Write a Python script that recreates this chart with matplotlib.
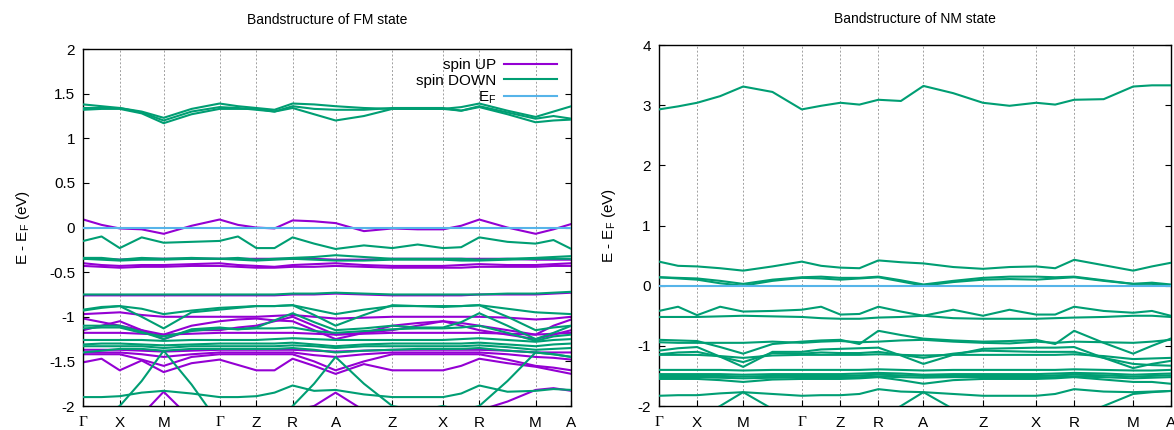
import numpy as np
import matplotlib.pyplot as plt

plt.rcParams['font.family'] = ['Liberation Sans', 'DejaVu Sans']

# k-path: high-symmetry points and the sampled k-grid (points + segment midpoints)
kpt_labels = ['Γ', 'X', 'M', 'Γ', 'Z', 'R', 'A', 'Z', 'X', 'R', 'M', 'A']
kpt_pos = [0.0, 0.0745, 0.1645, 0.279, 0.3545, 0.4288, 0.5168, 0.633, 0.737, 0.8113, 0.9266, 1.0]
kgrid = [0.0, 0.0373, 0.0745, 0.1195, 0.1645, 0.2218, 0.279, 0.3168, 0.3545, 0.3917, 0.4288,
         0.4728, 0.5168, 0.5749, 0.633, 0.685, 0.737, 0.7742, 0.8113, 0.869, 0.9266, 0.9633, 1.0]

# FM state, spin UP bands (eV)
fm_up = [
    [0.09, 0.03, -0.01, -0.02, -0.07, 0.02, 0.09, 0.03, 0.0, -0.01, 0.08, 0.07, 0.05, -0.04, -0.01, -0.02, -0.02, 0.02, 0.09, 0.0, -0.07, -0.02, 0.04],
    [-0.35, -0.35, -0.36, -0.35, -0.35, -0.35, -0.35, -0.35, -0.35, -0.35, -0.35, -0.35, -0.36, -0.36, -0.35, -0.35, -0.35, -0.35, -0.35, -0.35, -0.36, -0.36, -0.36],
    [-0.40, -0.42, -0.43, -0.42, -0.42, -0.41, -0.40, -0.42, -0.43, -0.44, -0.42, -0.41, -0.40, -0.42, -0.43, -0.43, -0.43, -0.42, -0.41, -0.42, -0.42, -0.41, -0.40],
    [-0.43, -0.44, -0.45, -0.44, -0.44, -0.43, -0.43, -0.44, -0.45, -0.45, -0.44, -0.44, -0.43, -0.44, -0.45, -0.45, -0.45, -0.45, -0.44, -0.44, -0.44, -0.43, -0.43],
    [-0.76, -0.76, -0.76, -0.76, -0.76, -0.76, -0.76, -0.76, -0.76, -0.76, -0.75, -0.75, -0.74, -0.75, -0.76, -0.76, -0.76, -0.76, -0.75, -0.75, -0.75, -0.74, -0.73],
    [-0.97, -0.96, -0.95, -0.98, -1.00, -1.00, -1.00, -1.00, -1.00, -0.99, -0.98, -1.00, -1.02, -1.01, -1.00, -1.00, -1.00, -1.00, -1.00, -1.01, -1.03, -1.02, -1.00],
    [-1.02, -1.06, -1.10, -1.15, -1.20, -1.10, -1.05, -1.03, -1.02, -1.04, -1.05, -1.15, -1.25, -1.18, -1.10, -1.07, -1.05, -1.07, -1.10, -1.15, -1.20, -1.10, -1.03],
    [-1.15, -1.10, -1.05, -1.15, -1.25, -1.15, -1.15, -1.12, -1.10, -1.05, -1.00, -1.10, -1.20, -1.18, -1.15, -1.10, -1.05, -1.10, -1.15, -1.20, -1.25, -1.20, -1.15],
    [-1.18, -1.18, -1.18, -1.19, -1.20, -1.19, -1.18, -1.18, -1.18, -1.18, -1.18, -1.19, -1.20, -1.19, -1.18, -1.18, -1.18, -1.18, -1.18, -1.19, -1.20, -1.19, -1.18],
    [-1.37, -1.37, -1.37, -1.38, -1.39, -1.38, -1.37, -1.37, -1.37, -1.37, -1.37, -1.38, -1.39, -1.38, -1.37, -1.37, -1.37, -1.37, -1.37, -1.38, -1.40, -1.40, -1.40],
    [-1.40, -1.40, -1.40, -1.42, -1.45, -1.42, -1.40, -1.40, -1.40, -1.40, -1.40, -1.43, -1.45, -1.42, -1.40, -1.40, -1.40, -1.40, -1.40, -1.42, -1.45, -1.46, -1.48],
    [-1.42, -1.42, -1.42, -1.48, -1.55, -1.45, -1.42, -1.42, -1.42, -1.42, -1.42, -1.50, -1.60, -1.50, -1.42, -1.42, -1.42, -1.42, -1.42, -1.48, -1.55, -1.57, -1.60],
    [-1.51, -1.47, -1.60, -1.49, -1.62, -1.52, -1.48, -1.54, -1.60, -1.60, -1.47, -1.55, -1.64, -1.53, -1.60, -1.60, -1.60, -1.55, -1.47, -1.52, -1.56, -1.60, -1.64],
    [-2.30, -2.30, -2.25, -2.10, -1.84, -2.15, -2.30, -2.30, -2.30, -2.15, -2.05, -2.00, -1.85, -2.05, -2.20, -2.20, -2.20, -2.10, -2.05, -1.95, -1.82, -1.80, -1.83],
]

# FM state, spin DOWN bands (eV)
fm_down = [
    [1.38, 1.36, 1.34, 1.30, 1.23, 1.33, 1.39, 1.36, 1.34, 1.32, 1.39, 1.38, 1.36, 1.34, 1.33, 1.33, 1.33, 1.35, 1.39, 1.31, 1.24, 1.30, 1.36],
    [1.32, 1.33, 1.33, 1.28, 1.17, 1.27, 1.33, 1.33, 1.33, 1.30, 1.34, 1.27, 1.20, 1.25, 1.33, 1.33, 1.33, 1.31, 1.35, 1.27, 1.18, 1.20, 1.21],
    [1.34, 1.34, 1.34, 1.29, 1.20, 1.30, 1.35, 1.34, 1.32, 1.30, 1.36, 1.33, 1.32, 1.32, 1.34, 1.34, 1.34, 1.31, 1.36, 1.29, 1.22, 1.25, 1.22],
    [-0.15, -0.10, -0.23, -0.11, -0.17, -0.16, -0.15, -0.10, -0.23, -0.23, -0.11, -0.18, -0.24, -0.20, -0.23, -0.19, -0.23, -0.22, -0.11, -0.16, -0.18, -0.14, -0.24],
    [-0.34, -0.34, -0.36, -0.34, -0.35, -0.34, -0.35, -0.34, -0.36, -0.35, -0.34, -0.33, -0.31, -0.33, -0.35, -0.35, -0.35, -0.35, -0.36, -0.35, -0.34, -0.33, -0.32],
    [-0.35, -0.36, -0.37, -0.36, -0.36, -0.35, -0.35, -0.36, -0.37, -0.36, -0.35, -0.36, -0.37, -0.37, -0.36, -0.36, -0.36, -0.37, -0.37, -0.36, -0.35, -0.35, -0.35],
    [-0.75, -0.75, -0.75, -0.75, -0.75, -0.75, -0.75, -0.75, -0.75, -0.75, -0.74, -0.74, -0.73, -0.74, -0.75, -0.75, -0.75, -0.75, -0.75, -0.74, -0.74, -0.73, -0.72],
    [-0.92, -0.89, -0.88, -0.91, -0.97, -0.93, -0.90, -0.89, -0.88, -0.88, -0.87, -0.92, -0.97, -0.92, -0.88, -0.88, -0.89, -0.88, -0.87, -0.91, -0.95, -0.96, -0.97],
    [-0.93, -0.90, -0.88, -1.00, -1.13, -0.95, -0.92, -0.90, -0.88, -0.88, -0.87, -0.98, -1.10, -0.98, -0.87, -0.88, -0.88, -0.88, -0.87, -1.00, -1.15, -1.12, -1.10],
    [-1.10, -1.10, -1.10, -1.17, -1.25, -1.14, -1.12, -1.14, -1.12, -1.04, -0.96, -1.06, -1.15, -1.13, -1.10, -1.12, -1.12, -1.06, -0.96, -1.10, -1.25, -1.18, -1.10],
    [-1.13, -1.12, -1.12, -1.18, -1.22, -1.16, -1.13, -1.14, -1.13, -1.13, -1.12, -1.16, -1.18, -1.16, -1.14, -1.13, -1.13, -1.12, -1.10, -1.18, -1.27, -1.22, -1.20],
    [-1.26, -1.26, -1.26, -1.26, -1.27, -1.26, -1.26, -1.26, -1.26, -1.25, -1.24, -1.25, -1.26, -1.26, -1.26, -1.26, -1.26, -1.25, -1.24, -1.26, -1.28, -1.26, -1.25],
    [-1.31, -1.30, -1.30, -1.31, -1.32, -1.31, -1.30, -1.30, -1.30, -1.30, -1.29, -1.31, -1.33, -1.31, -1.30, -1.30, -1.30, -1.30, -1.29, -1.31, -1.33, -1.31, -1.30],
    [-1.33, -1.33, -1.33, -1.33, -1.35, -1.33, -1.33, -1.33, -1.33, -1.33, -1.32, -1.33, -1.35, -1.33, -1.33, -1.33, -1.33, -1.33, -1.32, -1.34, -1.37, -1.36, -1.35],
    [-1.40, -1.38, -1.36, -1.36, -1.38, -1.36, -1.36, -1.36, -1.36, -1.36, -1.35, -1.37, -1.40, -1.38, -1.37, -1.36, -1.36, -1.36, -1.35, -1.38, -1.40, -1.42, -1.45],
    [-2.20, -2.10, -2.00, -1.72, -1.38, -1.76, -2.20, -2.40, -2.30, -2.20, -2.00, -1.75, -1.45, -1.75, -2.00, -2.05, -2.00, -2.05, -2.00, -1.72, -1.40, -1.42, -1.45],
    [-1.90, -1.90, -1.89, -1.85, -1.83, -1.86, -1.90, -1.90, -1.89, -1.85, -1.77, -1.83, -1.82, -1.87, -1.90, -1.90, -1.90, -1.86, -1.77, -1.84, -1.83, -1.81, -1.82],
]

# NM state bands (eV)
nm_bands = [
    [2.93, 2.98, 3.04, 3.15, 3.31, 3.22, 2.93, 2.99, 3.04, 3.01, 3.09, 3.07, 3.32, 3.20, 3.04, 2.99, 3.04, 3.01, 3.09, 3.10, 3.31, 3.33, 3.33],
    [0.40, 0.33, 0.32, 0.29, 0.25, 0.32, 0.40, 0.33, 0.30, 0.29, 0.42, 0.39, 0.37, 0.31, 0.28, 0.31, 0.32, 0.29, 0.43, 0.34, 0.25, 0.32, 0.38],
    [0.14, 0.13, 0.12, 0.08, 0.03, 0.10, 0.14, 0.15, 0.13, 0.13, 0.15, 0.09, 0.02, 0.08, 0.13, 0.15, 0.15, 0.14, 0.15, 0.09, 0.03, 0.05, 0.02],
    [0.14, 0.12, 0.10, 0.04, 0.00, 0.08, 0.13, 0.12, 0.10, 0.12, 0.14, 0.07, 0.00, 0.06, 0.10, 0.11, 0.10, 0.12, 0.14, 0.08, 0.03, 0.03, 0.00],
    [-0.42, -0.35, -0.49, -0.35, -0.43, -0.42, -0.40, -0.35, -0.48, -0.47, -0.35, -0.43, -0.50, -0.40, -0.50, -0.40, -0.48, -0.48, -0.35, -0.42, -0.45, -0.42, -0.50],
    [-0.52, -0.52, -0.52, -0.51, -0.50, -0.51, -0.52, -0.54, -0.55, -0.55, -0.53, -0.52, -0.50, -0.54, -0.55, -0.55, -0.55, -0.54, -0.53, -0.52, -0.50, -0.50, -0.52],
    [-0.90, -0.91, -0.92, -1.02, -1.13, -0.97, -0.93, -0.91, -0.90, -0.97, -0.75, -0.82, -0.88, -0.91, -0.93, -0.92, -0.90, -0.97, -0.75, -0.95, -1.13, -1.00, -0.88],
    [-0.94, -0.95, -0.95, -0.95, -0.95, -0.93, -0.95, -0.93, -0.92, -0.94, -0.93, -0.91, -0.90, -0.93, -0.95, -0.96, -0.93, -0.95, -0.93, -0.94, -0.95, -0.93, -0.90],
    [-1.08, -1.04, -1.02, -1.18, -1.35, -1.10, -1.10, -1.06, -1.05, -1.04, -1.03, -1.16, -1.30, -1.15, -1.05, -1.04, -1.03, -1.03, -1.02, -1.20, -1.37, -1.30, -1.25],
    [-1.14, -1.11, -1.10, -1.18, -1.27, -1.12, -1.13, -1.11, -1.12, -1.12, -1.10, -1.15, -1.20, -1.13, -1.08, -1.09, -1.10, -1.10, -1.10, -1.20, -1.30, -1.32, -1.33],
    [-1.15, -1.15, -1.15, -1.17, -1.20, -1.16, -1.15, -1.15, -1.15, -1.15, -1.14, -1.15, -1.16, -1.15, -1.15, -1.15, -1.15, -1.15, -1.14, -1.17, -1.22, -1.21, -1.20],
    [-1.40, -1.40, -1.40, -1.40, -1.41, -1.40, -1.40, -1.40, -1.40, -1.40, -1.39, -1.40, -1.41, -1.40, -1.40, -1.40, -1.40, -1.40, -1.39, -1.40, -1.41, -1.41, -1.40],
    [-1.47, -1.47, -1.47, -1.47, -1.48, -1.47, -1.47, -1.47, -1.47, -1.46, -1.45, -1.46, -1.48, -1.47, -1.47, -1.47, -1.47, -1.46, -1.45, -1.46, -1.48, -1.47, -1.46],
    [-1.50, -1.50, -1.50, -1.50, -1.51, -1.50, -1.50, -1.50, -1.50, -1.49, -1.48, -1.49, -1.50, -1.50, -1.50, -1.50, -1.50, -1.49, -1.48, -1.49, -1.51, -1.50, -1.49],
    [-1.52, -1.52, -1.52, -1.53, -1.54, -1.53, -1.52, -1.52, -1.52, -1.52, -1.51, -1.52, -1.53, -1.52, -1.52, -1.52, -1.52, -1.52, -1.51, -1.52, -1.54, -1.53, -1.52],
    [-1.55, -1.55, -1.55, -1.57, -1.60, -1.56, -1.55, -1.55, -1.55, -1.54, -1.52, -1.57, -1.63, -1.57, -1.55, -1.55, -1.55, -1.54, -1.52, -1.56, -1.60, -1.60, -1.63],
    [-1.83, -1.82, -1.82, -1.79, -1.77, -1.80, -1.83, -1.82, -1.82, -1.80, -1.72, -1.76, -1.77, -1.80, -1.83, -1.83, -1.83, -1.80, -1.72, -1.76, -1.77, -1.76, -1.75],
    [-2.40, -2.30, -2.20, -2.00, -1.77, -2.05, -2.40, -2.40, -2.40, -2.30, -2.20, -2.00, -1.77, -2.05, -2.30, -2.40, -2.40, -2.30, -2.20, -2.00, -1.80, -1.77, -1.75],
]

c_up = '#9400d3'
c_down = '#009e73'
c_ef = '#56b4e9'


def style_axes(ax, ylim, yticks, title, title_pad, ylab_pad):
    ax.set_xlim(0, 1)
    ax.set_ylim(*ylim)
    ax.set_yticks(yticks)
    ax.set_yticklabels([f'{v:g}' for v in yticks], fontsize=11)
    ax.set_xticks(kpt_pos)
    ax.set_xticklabels(kpt_labels, fontsize=11)
    for lab in ax.get_xticklabels():
        if lab.get_text() == 'Γ':
            lab.set_family('Liberation Serif')
    ax.tick_params(direction='in', top=False, right=True, length=4, width=0.8)
    ax.tick_params(axis='x', pad=7)
    ax.tick_params(axis='y', pad=6)
    for x in kpt_pos[1:-1]:
        ax.axvline(x, color='#a0a0a0', ls=(0, (2, 2)), lw=0.7, zorder=0)
    for s in ax.spines.values():
        s.set_linewidth(1.0)
    ax.set_ylabel('E - E$_\\mathregular{F}$ (eV)', fontsize=11, labelpad=ylab_pad)
    ax.set_title(title, fontsize=10, pad=title_pad)


fig = plt.figure(figsize=(11.74, 4.30), dpi=100)
ax1 = fig.add_axes([0.0710, 0.0558, 0.4157, 0.830])
ax2 = fig.add_axes([0.5613, 0.0558, 0.4359, 0.8395])

lw = 1.5
for i, band in enumerate(fm_up):
    ax1.plot(kgrid, band, color=c_up, lw=lw, label='spin UP' if i == 0 else None, zorder=2)
for i, band in enumerate(fm_down):
    ax1.plot(kgrid, band, color=c_down, lw=lw, label='spin DOWN' if i == 0 else None, zorder=3)
ax1.axhline(0, color=c_ef, lw=lw, label='E$_\\mathregular{F}$', zorder=4)
style_axes(ax1, (-2, 2), [-2, -1.5, -1, -0.5, 0, 0.5, 1, 1.5, 2],
           'Bandstructure of FM state', 18, 12)
ax1.legend(loc='upper right', frameon=False, markerfirst=False, fontsize=11,
           handlelength=3.5, handletextpad=0.5, labelspacing=0.1,
           borderaxespad=0.2, bbox_to_anchor=(0.99, 1.0))

for band in nm_bands:
    ax2.plot(kgrid, band, color=c_down, lw=lw, zorder=3)
ax2.axhline(0, color=c_ef, lw=lw, zorder=4)
style_axes(ax2, (-2, 4), [-2, -1, 0, 1, 2, 3, 4],
           'Bandstructure of NM state', 16, 14)

fig.savefig('out.png', dpi=100)
